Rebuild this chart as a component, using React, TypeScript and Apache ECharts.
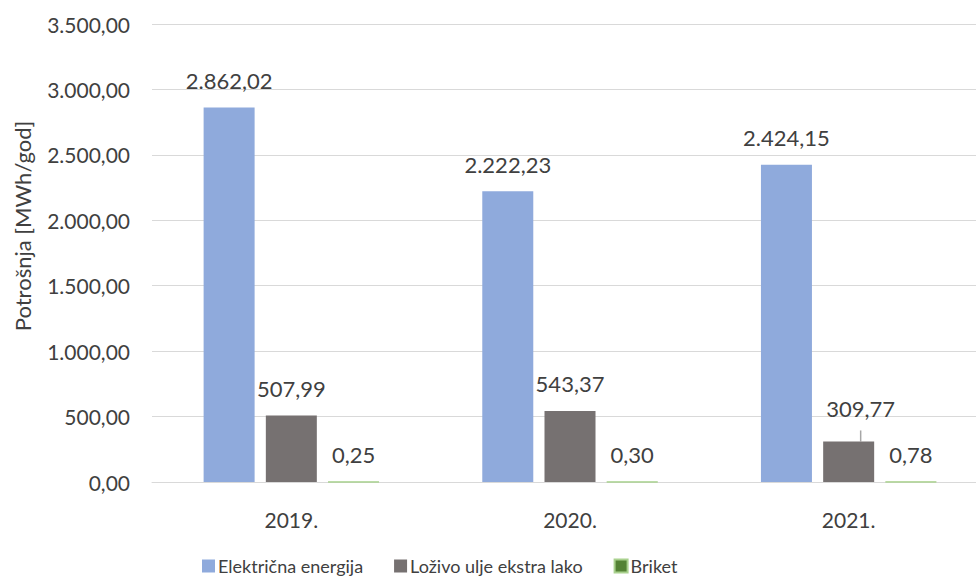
import React, { useEffect, useRef } from "react";
import * as echarts from "echarts";

const categories = ["2019.", "2020.", "2021."];
const seriesNames = ["Električna energija", "Loživo ulje ekstra lako", "Briket"];
const elektricna = [2862.02, 2222.23, 2424.15];
const lozivo = [507.99, 543.37, 309.77];
const briket = [0.25, 0.3, 0.78];
const yTicks = { min: 0, max: 3500, interval: 500 };
const axisTitle = "Potrošnja [MWh/god]";

const FONT = "Lato";

function fmt(v: number): string {
  const [i, d] = v.toFixed(2).split(".");
  const withDots = i.replace(/\B(?=(\d{3})+(?!\d))/g, ".");
  return withDots + "," + d;
}

export default function App() {
  const ref = useRef<HTMLDivElement>(null);
  useEffect(() => {
    if (!ref.current) return;
    const chart = echarts.init(ref.current, null, { renderer: "svg" });
    const labelBase = {
      show: true,
      position: "top" as const,
      distance: 16,
      fontFamily: FONT,
      fontSize: 22,
      color: "#404040",
      formatter: (p: any) => fmt(p.value),
    };
    chart.setOption({
      animation: false,
      textStyle: { fontFamily: FONT },
      grid: { left: 152, top: 24, right: 0, bottom: 96, containLabel: false },
      legend: {
        top: 556,
        left: 202,
        padding: 0,
        itemWidth: 13,
        itemHeight: 13,
        itemGap: 31,
        icon: "rect",
        textStyle: {
          fontFamily: FONT,
          fontSize: 18,
          lineHeight: 20,
          color: "#404040",
          padding: [0, 0, 0, -2],
        },
        data: seriesNames,
      },
      graphic: [
        {
          type: "text",
          x: 22,
          y: 226,
          rotation: Math.PI / 2,
          style: {
            text: axisTitle,
            fontFamily: FONT,
            fontSize: 22,
            fill: "#404040",
            align: "center",
            verticalAlign: "middle",
          },
        },
      ],
      xAxis: {
        type: "category",
        data: categories,
        axisLine: { lineStyle: { color: "#D9D9D9", width: 1 } },
        axisTick: { show: false },
        axisLabel: { fontFamily: FONT, fontSize: 21, color: "#404040", margin: 27 },
      },
      yAxis: {
        type: "value",
        min: yTicks.min,
        max: yTicks.max,
        interval: yTicks.interval,
        axisLine: { show: false },
        axisTick: { show: false },
        splitLine: { lineStyle: { color: "#D9D9D9", width: 1 } },
        axisLabel: {
          fontFamily: FONT,
          fontSize: 21,
          color: "#404040",
          margin: 22,
          formatter: (v: number) => fmt(v),
        },
      },
      series: [
        {
          name: seriesNames[0],
          type: "bar",
          barWidth: 51,
          barGap: "22%",
          data: elektricna,
          itemStyle: { color: "#8FAADC" },
          label: labelBase,
        },
        {
          name: seriesNames[1],
          type: "bar",
          barWidth: 51,
          barGap: "22%",
          data: lozivo.map((v, i) =>
            i === 2
              ? {
                  value: v,
                  label: { offset: [12, -6] },
                  labelLine: { show: true, lineStyle: { color: "#A6A6A6", width: 1.5 } },
                }
              : v
          ),
          itemStyle: { color: "#767171" },
          label: labelBase,
          labelLine: { show: false },
        },
        {
          name: seriesNames[2],
          type: "bar",
          barWidth: 51,
          barGap: "22%",
          data: briket,
          itemStyle: { color: "#548235", borderColor: "#A9D18E", borderWidth: 1 },
          label: labelBase,
        },
      ],
    });
    return () => chart.dispose();
  }, []);
  return (
    <div
      ref={ref}
      style={{ position: "fixed", left: 0, top: 0, width: 988, height: 578, background: "#fff" }}
    />
  );
}
